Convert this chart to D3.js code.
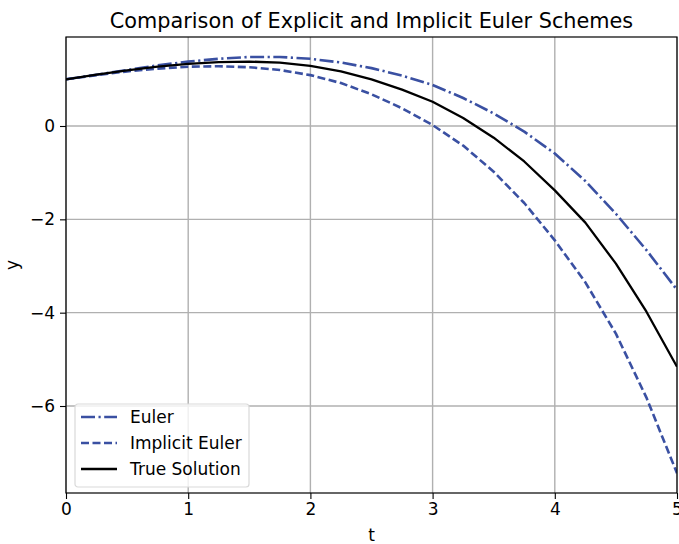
<!DOCTYPE html>
<html>
<head>
<meta charset="utf-8">
<script src="https://cdn.jsdelivr.net/npm/d3@7"></script>
<style>
  html, body { margin: 0; padding: 0; background: #fff; }
  svg { display: block; font-family: "DejaVu Sans", sans-serif; }
</style>
</head>
<body>
<svg id="chart" width="679" height="544"></svg>
<script>
// Time grid (step 0.25) and the three solution curves
const tValues = [0, 0.25, 0.5, 0.75, 1, 1.25, 1.5, 1.75, 2, 2.25, 2.5, 2.75, 3, 3.25, 3.5, 3.75, 4, 4.25, 4.5, 4.75, 5];
const eulerValues = [1.0, 1.1, 1.2, 1.3, 1.38, 1.44, 1.48, 1.48, 1.44, 1.36, 1.24, 1.08, 0.88, 0.6, 0.27, -0.12, -0.59, -1.18, -1.88, -2.66, -3.51];
const implicitValues = [1.0, 1.09, 1.17, 1.23, 1.27, 1.28, 1.26, 1.2, 1.09, 0.92, 0.68, 0.38, 0.02, -0.42, -0.98, -1.65, -2.45, -3.35, -4.45, -5.82, -7.44];
const trueValues = [1.0, 1.1, 1.19, 1.27, 1.33, 1.37, 1.38, 1.36, 1.29, 1.17, 1.0, 0.78, 0.52, 0.17, -0.25, -0.76, -1.38, -2.07, -2.95, -3.98, -5.16];
const xTicks = [0, 1, 2, 3, 4, 5];
const yTicks = [-6, -4, -2, 0];
const seriesNames = ["Euler", "Implicit Euler", "True Solution"];

const svg = d3.select("#chart");
const margin = { left: 66, right: 2, top: 37, bottom: 51 };
const W = 679, H = 544;
const x = d3.scaleLinear().domain([0, 5]).range([margin.left, W - margin.right]);
const y = d3.scaleLinear().domain([-7.864, 1.907]).range([H - margin.bottom, margin.top]);

const blue = "#3a50a2";
const series = [
  { name: seriesNames[0], values: eulerValues, color: blue, dash: "14,3.5,2.2,3.5", width: 2.6 },
  { name: seriesNames[1], values: implicitValues, color: blue, dash: "8,3.5", width: 2.6 },
  { name: seriesNames[2], values: trueValues, color: "#000", dash: null, width: 2.3 }
];

// Grid
const grid = svg.append("g");
grid.selectAll("line.gx").data(xTicks).join("line")
  .attr("x1", d => x(d)).attr("x2", d => x(d))
  .attr("y1", y.range()[1]).attr("y2", y.range()[0])
  .attr("stroke", "#b0b0b0").attr("stroke-width", 1.4);
grid.selectAll("line.gy").data(yTicks).join("line")
  .attr("y1", d => y(d)).attr("y2", d => y(d))
  .attr("x1", x.range()[0]).attr("x2", x.range()[1])
  .attr("stroke", "#b0b0b0").attr("stroke-width", 1.4);

// Curves
svg.append("clipPath").attr("id", "plot-clip").append("rect")
  .attr("x", x.range()[0]).attr("y", y.range()[1])
  .attr("width", x.range()[1] - x.range()[0]).attr("height", y.range()[0] - y.range()[1]);
const line = d3.line().x((d, i) => x(tValues[i])).y(d => y(d));
svg.append("g").attr("clip-path", "url(#plot-clip)")
  .selectAll("path").data(series).join("path")
  .attr("d", d => line(d.values))
  .attr("fill", "none")
  .attr("stroke", d => d.color)
  .attr("stroke-width", d => d.width)
  .attr("stroke-dasharray", d => d.dash)
  .attr("stroke-linejoin", "round");

// Axes
const fmt = d => (d < 0 ? "\u2212" + Math.abs(d) : String(d));
const xAxis = svg.append("g").attr("transform", `translate(0,${y.range()[0]})`)
  .call(d3.axisBottom(x).tickValues(xTicks).tickFormat(fmt).tickSize(6).tickPadding(4));
const yAxis = svg.append("g").attr("transform", `translate(${x.range()[0]},0)`)
  .call(d3.axisLeft(y).tickValues(yTicks).tickFormat(fmt).tickSize(6).tickPadding(5));
[xAxis, yAxis].forEach(g => {
  g.select(".domain").remove();
  g.selectAll("text").attr("font-size", 17).attr("fill", "#000").attr("font-family", "DejaVu Sans");
  g.selectAll("line").attr("stroke", "#000").attr("stroke-width", 1.1);
});

// Frame
svg.append("rect")
  .attr("x", x.range()[0]).attr("y", y.range()[1])
  .attr("width", x.range()[1] - x.range()[0]).attr("height", y.range()[0] - y.range()[1])
  .attr("fill", "none").attr("stroke", "#000").attr("stroke-width", 1.2);

// Titles
svg.append("text").attr("x", (x.range()[0] + x.range()[1]) / 2).attr("y", 28)
  .attr("text-anchor", "middle").attr("font-size", 20.8).text("Comparison of Explicit and Implicit Euler Schemes");
svg.append("text").attr("x", (x.range()[0] + x.range()[1]) / 2).attr("y", 541)
  .attr("text-anchor", "middle").attr("font-size", 17).text("t");
svg.append("text").attr("transform", `translate(18,${(y.range()[0] + y.range()[1]) / 2}) rotate(-90)`)
  .attr("text-anchor", "middle").attr("font-size", 17).text("y");

// Legend
const legend = svg.append("g").attr("transform", "translate(75,404)");
legend.append("rect").attr("width", 174).attr("height", 83).attr("rx", 3)
  .attr("fill", "#fff").attr("fill-opacity", 0.8).attr("stroke", "#d9d9d9").attr("stroke-width", 1.2);
const rows = legend.selectAll("g.row").data(series).join("g")
  .attr("transform", (d, i) => `translate(0,${13 + i * 26})`);
rows.append("line").attr("x1", 6).attr("x2", 42).attr("y1", 0).attr("y2", 0)
  .attr("stroke", d => d.color).attr("stroke-width", d => d.width)
  .attr("stroke-dasharray", d => d.dash);
rows.append("text").attr("x", 55).attr("y", 0).attr("dy", "0.35em")
  .attr("font-size", 17).text(d => d.name);
</script>
</body>
</html>
